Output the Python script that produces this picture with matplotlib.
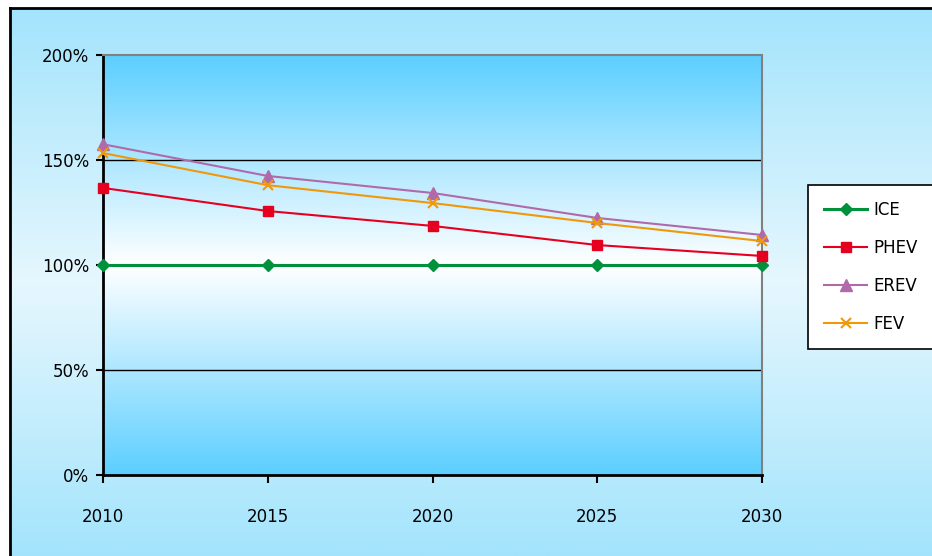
import numpy as np
import matplotlib.pyplot as plt
from matplotlib.colors import LinearSegmentedColormap

years = [2010, 2015, 2020, 2025, 2030]
ice = [100, 100, 100, 100, 100]
phev = [136.7, 125.7, 118.6, 109.5, 104.3]
erev = [157.5, 142.4, 134.3, 122.4, 114.3]
fev = [153.3, 138.0, 129.5, 120.0, 111.4]

plt.rcParams['font.family'] = ['DejaVu Sans']

fig = plt.figure(figsize=(9.32, 5.56), dpi=100)
fig.patch.set_facecolor('white')

# figure background gradient (inside the outer border)
bg = fig.add_axes([10 / 932, 0, 1 - 10 / 932, 1 - 8 / 556], zorder=-10)
bg_cmap = LinearSegmentedColormap.from_list('bg', ['#a3e4fc', '#e6f7fe', '#a3e4fc'])
bg.imshow(np.linspace(0, 1, 256).reshape(-1, 1), aspect='auto', cmap=bg_cmap,
          extent=[0, 1, 0, 1])
bg.set_xticks([])
bg.set_yticks([])
for side in ['right', 'bottom']:
    bg.spines[side].set_visible(False)
for side in ['left', 'top']:
    bg.spines[side].set_linewidth(2)
    bg.spines[side].set_color('black')

ax = fig.add_axes([103 / 932, 81 / 556, 659 / 932, 420 / 556])
plot_cmap = LinearSegmentedColormap.from_list('pa', ['#5ccfff', '#ffffff', '#5ccfff'])
ax.imshow(np.linspace(0, 1, 256).reshape(-1, 1), aspect='auto', cmap=plot_cmap,
          extent=[2010, 2030, 0, 200], zorder=0)

ax.plot(years, ice, color='#00913c', marker='D', markersize=6, lw=2.2, label='ICE',
        zorder=3, clip_on=False)
ax.plot(years, phev, color='#e6001f', marker='s', markersize=7, lw=1.5, label='PHEV',
        zorder=3, clip_on=False)
ax.plot(years, erev, color='#b06aaa', marker='^', markersize=8, lw=1.5, label='EREV',
        zorder=3, clip_on=False)
ax.plot(years, fev, color='#f0980a', marker='x', markersize=7, mew=1.5, lw=1.5, label='FEV',
        zorder=3, clip_on=False)

ax.set_xlim(2010, 2030)
ax.set_ylim(0, 200)
ax.set_xticks(years)
ax.set_yticks([0, 50, 100, 150, 200])
ax.set_yticklabels(['0%', '50%', '100%', '150%', '200%'])
for y in [50, 100, 150]:
    ax.axhline(y, color='black', lw=1, zorder=1)

ax.tick_params(axis='x', direction='out', length=6, width=1.5, pad=18, labelsize=12)
ax.tick_params(axis='y', direction='out', length=5, width=1.5, pad=5, labelsize=12)
ax.spines['left'].set_linewidth(2)
ax.spines['bottom'].set_linewidth(2)
ax.spines['top'].set_color('#808080')
ax.spines['right'].set_color('#808080')
ax.spines['top'].set_linewidth(1.5)
ax.spines['right'].set_linewidth(1.5)

leg = fig.legend(loc='upper left', bbox_to_anchor=(808 / 932, 1 - 185 / 556),
                 borderaxespad=0, frameon=True, fancybox=False, edgecolor='black',
                 facecolor='white', framealpha=1, fontsize=12, handlelength=2.6,
                 labelspacing=1.2, borderpad=0.95, handletextpad=0.4)
leg.get_frame().set_linewidth(1.2)

plt.savefig('out.png', dpi=100)
